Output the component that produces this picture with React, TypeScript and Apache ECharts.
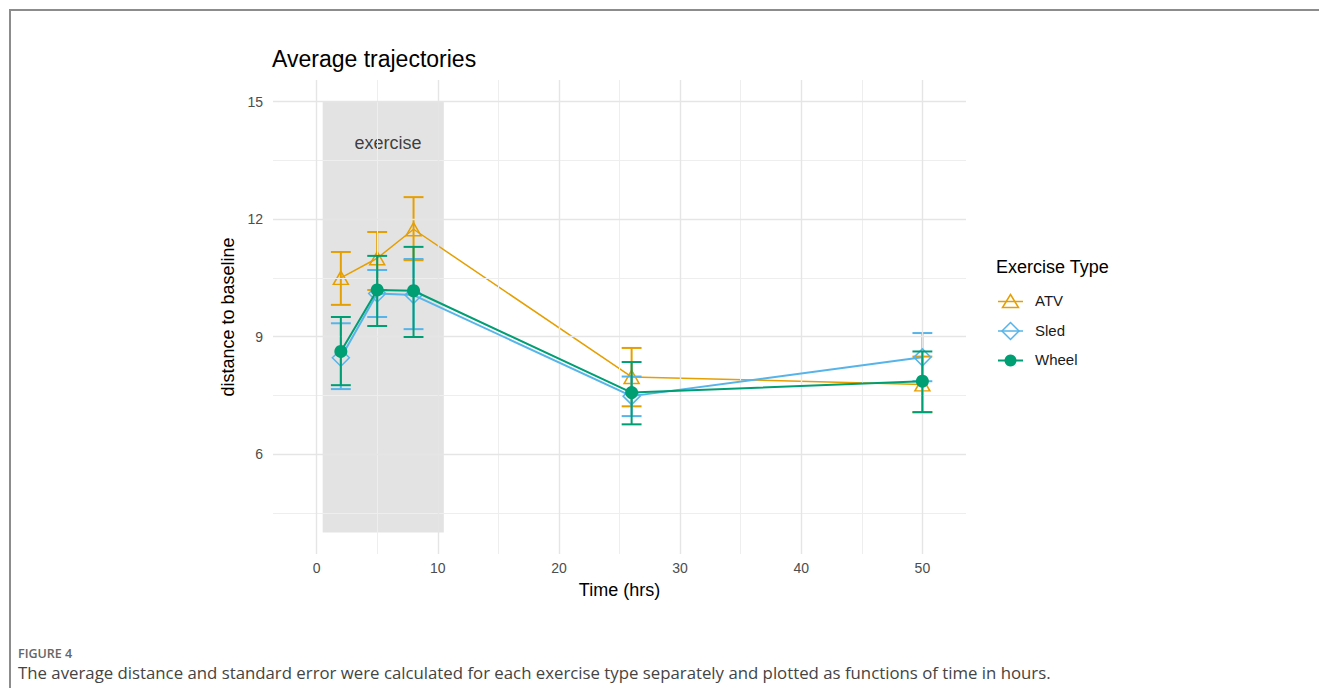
import React, { useEffect, useRef } from "react";
import * as echarts from "echarts";

const timePoints = [2, 5, 8, 26, 50];
const atvMean = [10.5, 11.0, 11.74, 7.97, 7.78];
const atvLow = [9.81, 10.19, 10.95, 7.22, 7.07];
const atvHigh = [11.16, 11.67, 12.56, 8.71, 8.49];
const sledMean = [8.46, 10.1, 10.06, 7.48, 8.47];
const sledLow = [7.66, 9.5, 9.19, 6.97, 7.86];
const sledHigh = [9.34, 10.7, 10.98, 7.98, 9.09];
const wheelMean = [8.62, 10.19, 10.17, 7.57, 7.86];
const wheelLow = [7.76, 9.27, 8.99, 6.76, 7.07];
const wheelHigh = [9.5, 11.06, 11.29, 8.35, 8.62];

const xTicks = [0, 10, 20, 30, 40, 50];
const xMinor = [5, 15, 25, 35, 45];
const yTicks = [6, 9, 12, 15];
const yMinor = [4.5, 7.5, 10.5, 13.5];

const exerciseWindow = [0.5, 10.5];
const exerciseRange = [4, 15];
const exerciseLabelPos = [5.9, 13.95];

const ORANGE = "#E69F00";
const BLUE = "#56B4E9";
const GREEN = "#009E73";
const FONT = "'Liberation Sans', Arial, sans-serif";

function errorBarSeries(name: string, low: number[], high: number[], color: string, z: number) {
  return {
    type: "custom",
    name: name + "-err",
    z,
    silent: true,
    data: timePoints.map((t, i) => [t, low[i], high[i]]),
    encode: { x: 0, y: [1, 2] },
    renderItem: (_params: any, api: any) => {
      const x = api.value(0);
      const lo = api.value(1);
      const hi = api.value(2);
      const pHi = api.coord([x, hi]);
      const pLo = api.coord([x, lo]);
      const hL = api.coord([x - 0.82, hi]);
      const hR = api.coord([x + 0.82, hi]);
      const style = { stroke: color, lineWidth: 2 };
      return {
        type: "group",
        children: [
          { type: "line", shape: { x1: pHi[0], y1: pHi[1], x2: pLo[0], y2: pLo[1] }, style },
          { type: "line", shape: { x1: hL[0], y1: pHi[1], x2: hR[0], y2: pHi[1] }, style },
          { type: "line", shape: { x1: hL[0], y1: pLo[1], x2: hR[0], y2: pLo[1] }, style },
        ],
      };
    },
  };
}

export default function App() {
  const ref = useRef<HTMLDivElement>(null);
  useEffect(() => {
    if (!ref.current) return;
    const chart = echarts.init(ref.current, null, { renderer: "svg" });
    const major = { color: "#E5E5E5", width: 1.4, type: "solid" };
    const minor = { color: "#EEEEEE", width: 1, type: "solid" };
    const option: any = {
      animation: false,
      backgroundColor: "#ffffff",
      textStyle: { fontFamily: FONT },
      title: {
        text: "Average trajectories",
        left: 272,
        top: 47,
        padding: 0,
        textStyle: { fontSize: 23, fontWeight: "normal", color: "#000", fontFamily: FONT },
      },
      grid: { left: 273, top: 80, width: 693, height: 474 },
      xAxis: {
        type: "value",
        min: -3.6,
        max: 53.6,
        name: "Time (hrs)",
        nameLocation: "middle",
        nameGap: 27,
        nameTextStyle: { fontSize: 18, color: "#000", fontFamily: FONT },
        axisLine: { show: false },
        axisTick: { show: false },
        splitLine: { show: false },
        axisLabel: { customValues: xTicks, fontSize: 14, color: "#4D4D4D", margin: 7, fontFamily: FONT },
      },
      yAxis: {
        type: "value",
        min: 3.45,
        max: 15.55,
        name: "distance to baseline",
        nameLocation: "middle",
        nameGap: 30,
        nameRotate: 90,
        nameTextStyle: { fontSize: 18, color: "#000", fontFamily: FONT },
        axisLine: { show: false },
        axisTick: { show: false },
        splitLine: { show: false },
        axisLabel: { customValues: yTicks, fontSize: 14, color: "#4D4D4D", margin: 10, fontFamily: FONT },
      },
      graphic: [
        { type: "line", shape: { x1: 9, y1: 10, x2: 1319, y2: 10 }, style: { stroke: "#8C8C8C", lineWidth: 2 } },
        { type: "line", shape: { x1: 10, y1: 9, x2: 10, y2: 688 }, style: { stroke: "#8C8C8C", lineWidth: 2 } },
        { type: "text", left: 996, top: 258, style: { text: "Exercise Type", fontSize: 18, fill: "#000", fontFamily: FONT } },
        { type: "line", shape: { x1: 998, y1: 301.5, x2: 1023, y2: 301.5 }, style: { stroke: ORANGE, lineWidth: 1.5 } },
        { type: "polygon", shape: { points: [[1010.5, 294.5], [1018.5, 307.5], [1002.5, 307.5]] }, style: { stroke: ORANGE, lineWidth: 1.5, fill: "none" } },
        { type: "text", left: 1035, top: 293, style: { text: "ATV", fontSize: 15, fill: "#1a1a1a", fontFamily: FONT } },
        { type: "line", shape: { x1: 998, y1: 331, x2: 1023, y2: 331 }, style: { stroke: BLUE, lineWidth: 1.5 } },
        { type: "polygon", shape: { points: [[1010.5, 322.5], [1019, 331], [1010.5, 339.5], [1002, 331]] }, style: { stroke: BLUE, lineWidth: 1.5, fill: "none" } },
        { type: "text", left: 1035, top: 322.5, style: { text: "Sled", fontSize: 15, fill: "#1a1a1a", fontFamily: FONT } },
        { type: "line", shape: { x1: 998, y1: 360.5, x2: 1023, y2: 360.5 }, style: { stroke: GREEN, lineWidth: 2 } },
        { type: "circle", shape: { cx: 1010.5, cy: 360.5, r: 6 }, style: { fill: GREEN } },
        { type: "text", left: 1035, top: 352, style: { text: "Wheel", fontSize: 15, fill: "#1a1a1a", fontFamily: FONT } },
        { type: "text", left: 18, top: 647, style: { text: "FIGURE 4", fontSize: 12.5, fontWeight: 600, fill: "#666", fontFamily: "'Open Sans', sans-serif" } },
        { type: "text", left: 18, top: 664, style: { text: "The average distance and standard error were calculated for each exercise type separately and plotted as functions of time in hours.", fontSize: 16.8, fill: "#444", fontFamily: "'Open Sans', sans-serif" } },
      ],
      series: [
        {
          type: "line",
          name: "grid",
          data: [],
          z: 0,
          silent: true,
          markLine: {
            silent: true,
            symbol: "none",
            label: { show: false },
            data: [
              ...xMinor.map((v) => ({ xAxis: v, lineStyle: minor })),
              ...yMinor.map((v) => ({ yAxis: v, lineStyle: minor })),
              ...xTicks.map((v) => ({ xAxis: v, lineStyle: major })),
              ...yTicks.map((v) => ({ yAxis: v, lineStyle: major })),
            ],
          },
        },
        {
          type: "scatter",
          name: "exercise",
          z: 1,
          silent: true,
          symbolSize: 0,
          data: [exerciseLabelPos],
          label: { show: true, position: "inside", formatter: "exercise", fontSize: 18, color: "#111", fontFamily: FONT },
          markArea: {
            silent: true,
            itemStyle: { color: "rgba(0,0,0,0.11)" },
            data: [[{ xAxis: exerciseWindow[0], yAxis: exerciseRange[0] }, { xAxis: exerciseWindow[1], yAxis: exerciseRange[1] }]],
          },
        },
        errorBarSeries("ATV", atvLow, atvHigh, ORANGE, 2),
        {
          type: "line",
          name: "ATV",
          z: 3,
          data: timePoints.map((t, i) => [t, atvMean[i]]),
          symbol: "triangle",
          symbolSize: [15, 13],
          showAllSymbol: true,
          lineStyle: { color: ORANGE, width: 1.5 },
          itemStyle: { color: "transparent", borderColor: ORANGE, borderWidth: 1.5 },
        },
        errorBarSeries("Sled", sledLow, sledHigh, BLUE, 4),
        {
          type: "line",
          name: "Sled",
          z: 5,
          data: timePoints.map((t, i) => [t, sledMean[i]]),
          symbol: "diamond",
          symbolSize: [17, 17],
          showAllSymbol: true,
          lineStyle: { color: BLUE, width: 2 },
          itemStyle: { color: "transparent", borderColor: BLUE, borderWidth: 1.5 },
        },
        errorBarSeries("Wheel", wheelLow, wheelHigh, GREEN, 6),
        {
          type: "line",
          name: "Wheel",
          z: 7,
          data: timePoints.map((t, i) => [t, wheelMean[i]]),
          symbol: "circle",
          symbolSize: 13,
          showAllSymbol: true,
          lineStyle: { color: GREEN, width: 2 },
          itemStyle: { color: GREEN, borderWidth: 0 },
        },
      ],
    };
    chart.setOption(option);
    return () => chart.dispose();
  }, []);
  return (
    <div
      ref={ref}
      style={{ position: "fixed", left: 0, top: 0, width: 1319, height: 688, background: "#fff" }}
    />
  );
}
